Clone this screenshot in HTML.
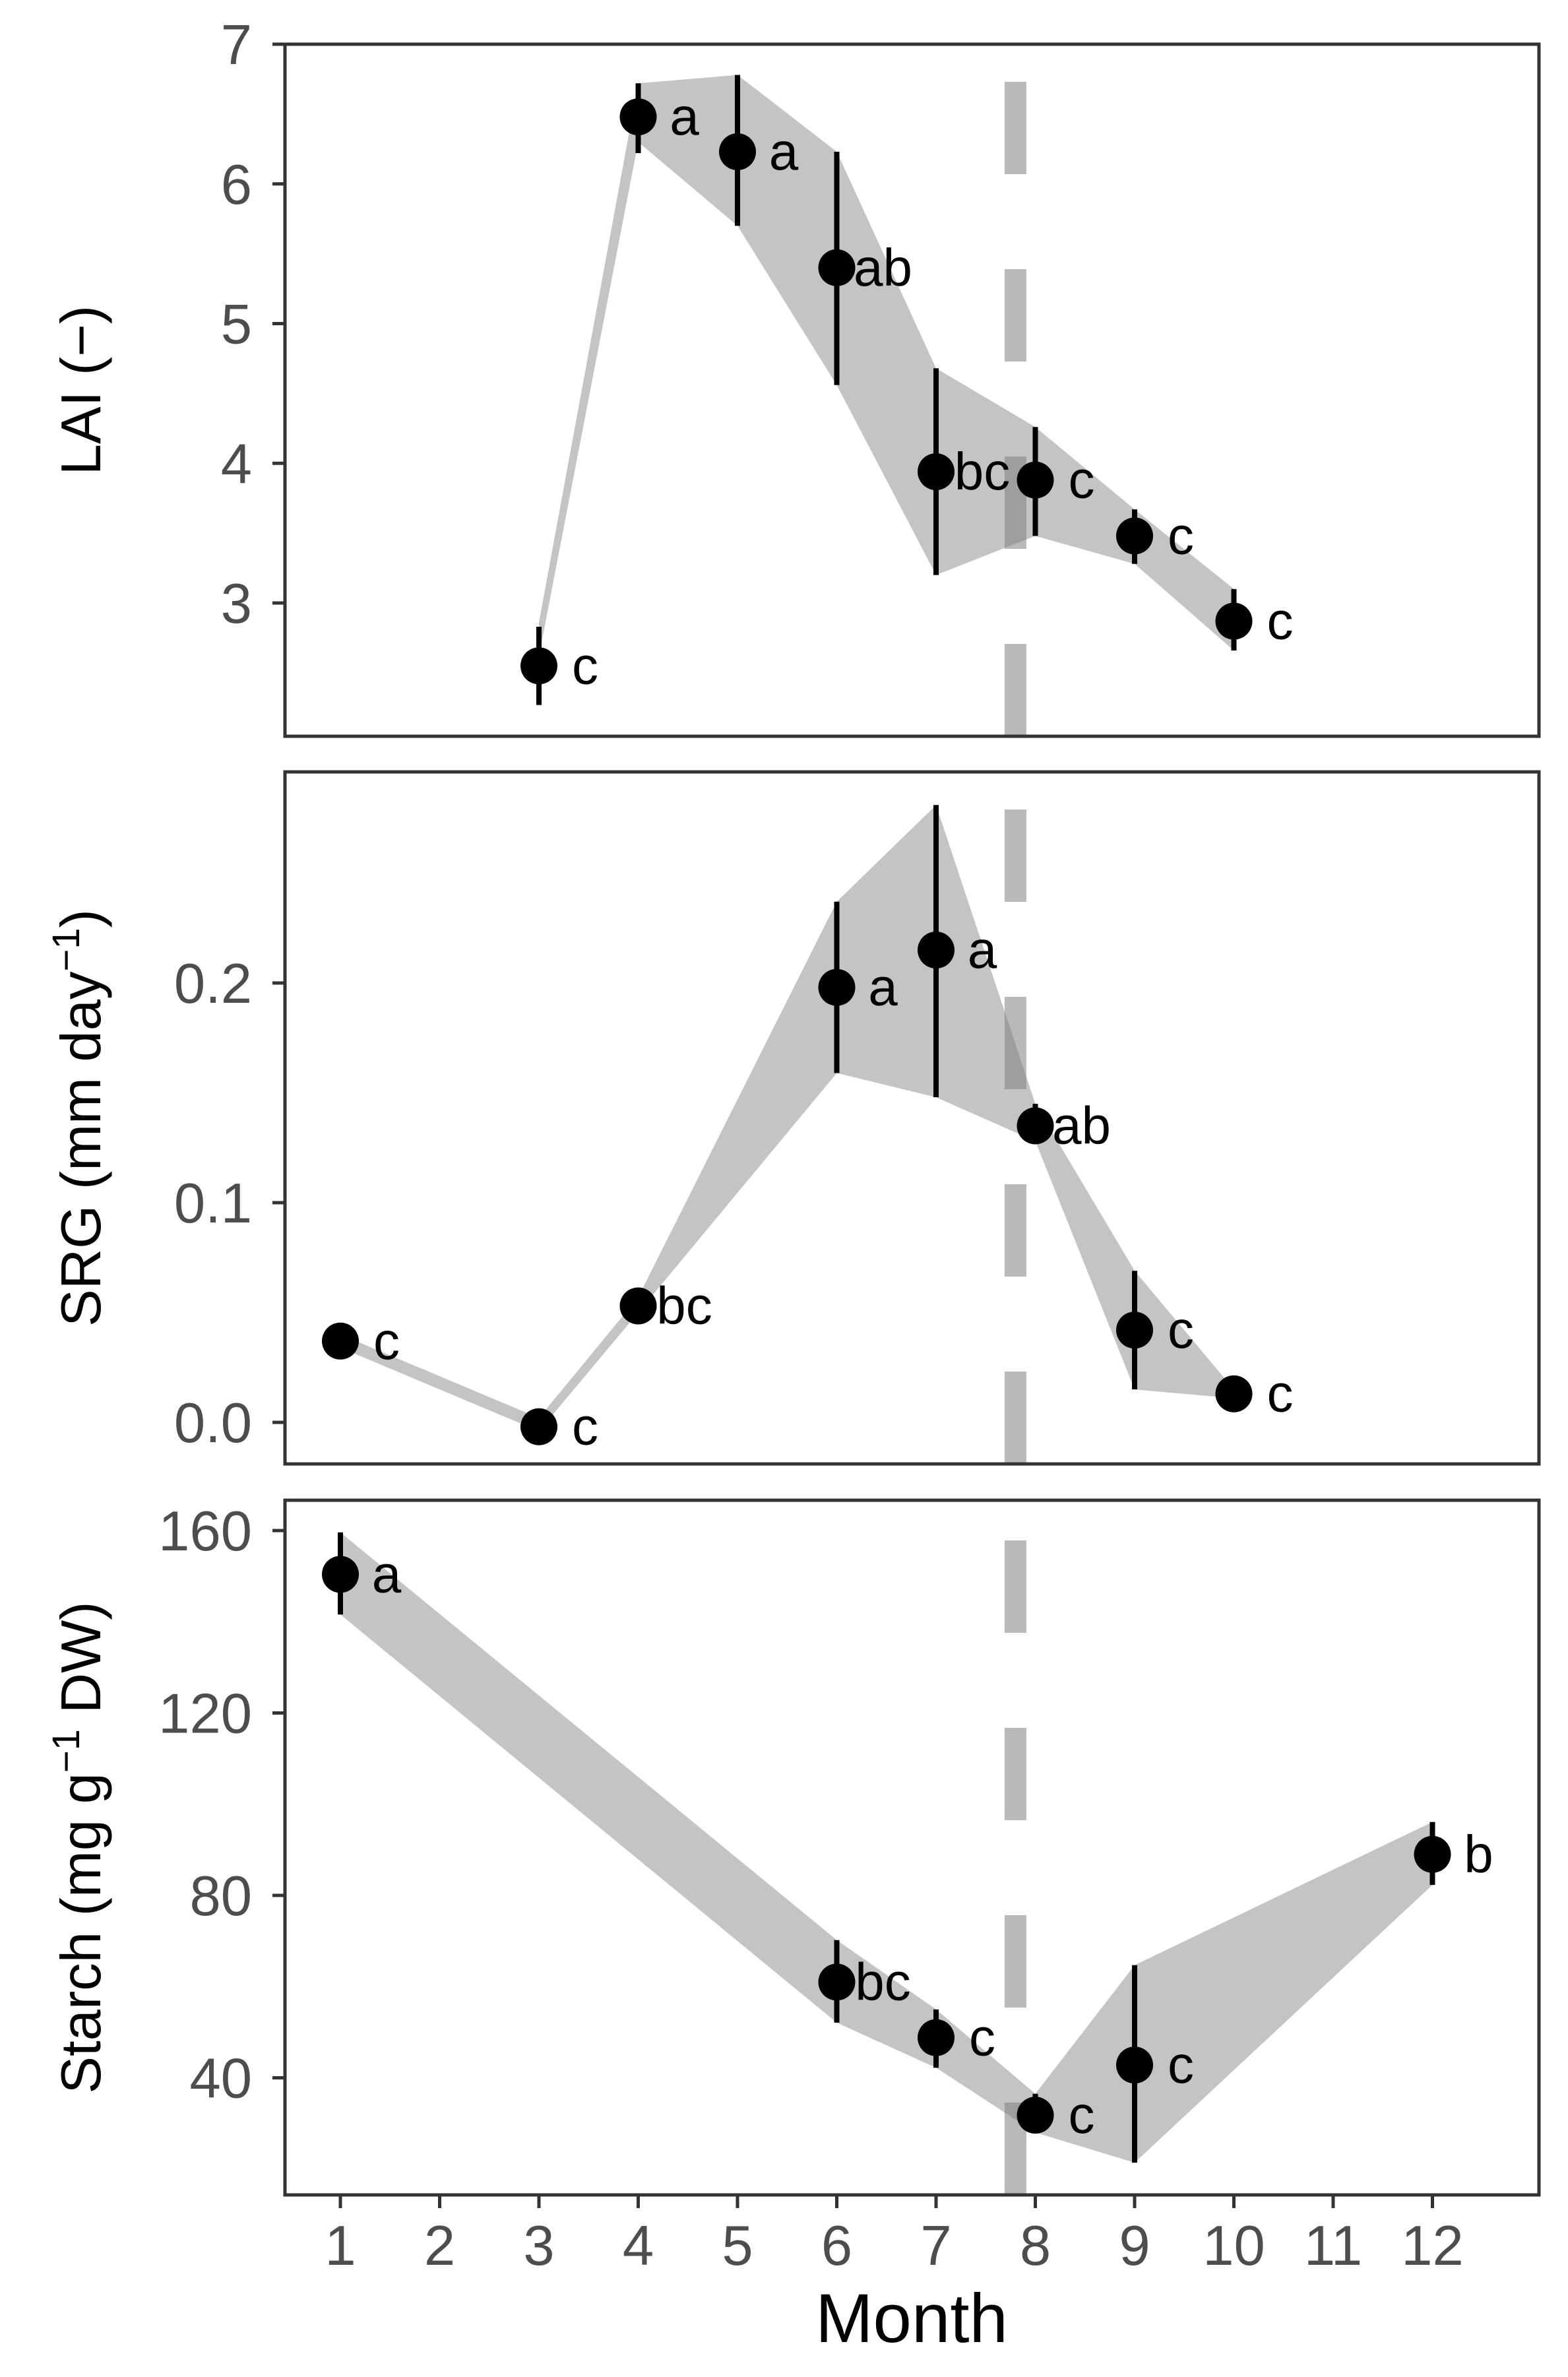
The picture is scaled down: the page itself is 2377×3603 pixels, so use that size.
<!DOCTYPE html>
<html><head><meta charset="utf-8"><title>LAI, SRG and Starch by Month</title>
<style>
html,body{margin:0;padding:0;background:#fff;}
svg{display:block;}
text{font-family:"Liberation Sans",Arial,sans-serif;}
</style></head>
<body>
<svg id="chart" xmlns="http://www.w3.org/2000/svg" width="2377" height="3603" viewBox="0 0 2377 3603">
<rect x="0" y="0" width="2377" height="3603" fill="#fff"/>
</svg>
<script>
// ---- data ----
const monthTicks = [1,2,3,4,5,6,7,8,9,10,11,12];
const dashMonth = 7.8;

const laiMonths = [3,4,5,6,7,8,9,10];
const laiMean   = [2.55,6.48,6.23,5.40,3.94,3.88,3.48,2.87];
const laiLow    = [2.27,6.22,5.70,4.56,3.20,3.48,3.28,2.66];
const laiHigh   = [2.83,6.72,6.78,6.23,4.68,4.26,3.67,3.10];
const laiBandLow  = [2.62,6.30,5.70,4.56,3.20,3.48,3.28,2.66];
const laiBandHigh = [2.86,6.72,6.78,6.23,4.68,4.26,3.67,3.10];
const laiLetters = ['c','a','a','ab','bc','c','c','c'];
const laiTicks = [3,4,5,6,7];

const srgMonths = [1,3,4,6,7,8,9,10];
const srgMean   = [0.037,-0.002,0.053,0.198,0.215,0.135,0.042,0.013];
const srgLow    = [0.034,-0.004,0.050,0.159,0.148,0.128,0.015,0.011];
const srgHigh   = [0.040,0.002,0.057,0.237,0.281,0.145,0.069,0.015];
const srgLetters = ['c','c','bc','a','a','ab','c','c'];
const srgTicks = [0.0,0.1,0.2];
const srgTickLabels = ['0.0','0.1','0.2'];

const starchMonths = [1,6,7,8,9,12];
const starchMean   = [150.4,61.0,48.8,31.8,42.8,89.0];
const starchLow    = [141.6,52.1,42.2,28.0,21.4,82.3];
const starchHigh   = [159.6,70.2,55.0,36.5,64.7,96.1];
const starchLetters = ['a','bc','c','c','c','b'];
const starchTicks = [40,80,120,160];

// ---- layout ----
const NS = 'http://www.w3.org/2000/svg';
const svg = document.getElementById('chart');
const L = 432, R = 2333;
function xs(m){ return 516 + (m-1)*150.5; }
function el(tag, attrs, parent){
  const e = document.createElementNS(NS, tag);
  for (const k in attrs) e.setAttribute(k, attrs[k]);
  (parent||svg).appendChild(e);
  return e;
}

function panel(name, top, bottom, ys, months, mean, low, high, bandLow, bandHigh, letters, ticks, tickLabels, title, withSup, titleRest){
  const g = el('g', {});
  
  
  let pts = [];
  for (let i=0;i<months.length;i++) pts.push(xs(months[i]).toFixed(1)+','+ys(bandHigh[i]).toFixed(1));
  for (let i=months.length-1;i>=0;i--) pts.push(xs(months[i]).toFixed(1)+','+ys(bandLow[i]).toFixed(1));
  const rib = el('polygon', {points: pts.join(' '), fill:'#c4c4c4'}, g);
  
  
  const dl = el('line', {x1: xs(dashMonth), x2: xs(dashMonth), y1: bottom, y2: top, stroke:'#7f7f7f', 'stroke-opacity':'0.55', 'stroke-width':33, 'stroke-dasharray':'140 144'}, g);
  
  
  for (let i=0;i<months.length;i++){
    const x = xs(months[i]);
    const eb = el('line', {x1:x, x2:x, y1: ys(low[i]), y2: ys(high[i]), stroke:'#000', 'stroke-width':8}, g);
    
    
  }
  for (let i=0;i<months.length;i++){
    const x = xs(months[i]), y = ys(mean[i]);
    const c = el('circle', {cx:x, cy:y, r:28, fill:'#000'}, g);
    
    
    const t = el('text', {x: x+70, y: y+27, 'font-size':80, fill:'#000', 'text-anchor':'middle'}, g);
    t.textContent = letters[i];
    
    
  }
  const b = el('rect', {x:L, y:top, width:R-L, height:bottom-top, fill:'none', stroke:'#333', 'stroke-width':5}, g);
  
  
  for (let i=0;i<ticks.length;i++){
    const y = ys(ticks[i]);
    const tk = el('line', {x1:L-19, x2:L, y1:y, y2:y, stroke:'#333', 'stroke-width':5}, g);
    
    
    const tl = el('text', {x:382, y:y+30, 'font-size':85, fill:'#4d4d4d', 'text-anchor':'end'}, g);
    tl.textContent = tickLabels[i];
    
    
  }
  const cy = (top+bottom)/2;
  const tt = el('text', {x:0, y:0, 'font-size':85, fill:'#000', 'text-anchor':'middle', transform:'translate(152,'+cy+') rotate(-90)'}, g);
  
  
  if (withSup){
    const s1 = el('tspan', {}, tt); s1.textContent = title;
    const s2 = el('tspan', {dy:-32, 'font-size':58}, tt); s2.textContent = '\u22121';
    const s3 = el('tspan', {dy:32}, tt); s3.textContent = titleRest;
  } else {
    tt.textContent = title;
  }
}

panel('lai', 67, 1116, v => 67 + (7-v)*211.75, laiMonths, laiMean, laiLow, laiHigh, laiBandLow, laiBandHigh, laiLetters, laiTicks, laiTicks.map(String), 'LAI (\u2212)', false, '');
panel('srg', 1170, 2219, v => 2156 - v*3330, srgMonths, srgMean, srgLow, srgHigh, srgLow, srgHigh, srgLetters, srgTicks, srgTickLabels, 'SRG (mm day', true, ')');
panel('starch', 2274, 3327, v => 2320 + (160-v)*6.9125, starchMonths, starchMean, starchLow, starchHigh, starchLow, starchHigh, starchLetters, starchTicks, starchTicks.map(String), 'Starch (mg g', true, ' DW)');

for (let i=0;i<monthTicks.length;i++){
  const x = xs(monthTicks[i]);
  const tk = el('line', {x1:x, x2:x, y1:3327, y2:3347, stroke:'#333', 'stroke-width':5});
  
  
  const tl = el('text', {x:x, y:3433, 'font-size':85, fill:'#4d4d4d', 'text-anchor':'middle'});
  tl.textContent = String(monthTicks[i]);
  
  
}
const xt = el('text', {x:1382, y:3550, 'font-size':105, fill:'#000', 'text-anchor':'middle'});
xt.textContent = 'Month';


</script>
</body></html>
